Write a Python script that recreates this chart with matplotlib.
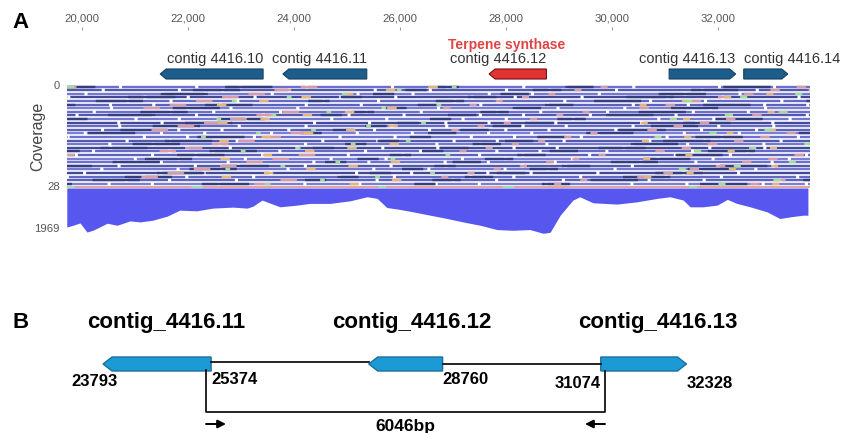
"""Contig 4416 region: read pileup / coverage (A) and PCR-spanning schematic (B)."""

import matplotlib

matplotlib.use("Agg")
import matplotlib.pyplot as plt
from matplotlib.patches import Polygon
from matplotlib.ticker import StrMethodFormatter

plt.rcParams["font.family"] = ["Liberation Sans", "DejaVu Sans"]

W, H = 844, 433

# --- panel A data -----------------------------------------------------------
ruler_ticks = [20000, 22000, 24000, 26000, 28000, 30000, 32000]

genes_a = ["contig 4416.10", "contig 4416.11", "contig 4416.12",
           "contig 4416.13", "contig 4416.14"]
genes_a_start = [21480, 23793, 27680, 31074, 32480]
genes_a_end = [23420, 25374, 28760, 32328, 33310]
genes_a_strand = [-1, -1, -1, 1, 1]
terpene_gene = "contig 4416.12"

read_rows = 28
max_cov = 1969

cov_pos = [19720, 19840, 19970, 20100, 20210, 20340, 20480, 20670, 20910, 21100,
           21340, 21610, 21850, 22170, 22470, 22850, 23120, 23230, 23400, 23550,
           23740, 24060, 24300, 24680, 25060, 25380, 25570, 25750, 26000, 26250,
           26570, 26890, 27190, 27510, 27830, 28130, 28450, 28700, 28830, 29020,
           29260, 29390, 29640, 30090, 30470, 30850, 31090, 31340, 31470, 31710,
           31980, 32170, 32350, 32600, 32920, 33160, 33350, 33600, 33690]
cov_depth = [1694, 1619, 1519, 1912, 1838, 1694, 1532, 1619, 1431, 1475,
             1400, 1225, 963, 993, 875, 831, 875, 788, 525, 656,
             818, 744, 670, 670, 556, 381, 451, 845, 932, 1037,
             1182, 1326, 1475, 1619, 1807, 1838, 1807, 1969, 1925, 1182,
             525, 381, 643, 700, 600, 451, 381, 525, 818, 818,
             744, 494, 670, 818, 1037, 1326, 1256, 1182, 1182]

# --- panel B data -----------------------------------------------------------
genes_b = ["contig_4416.11", "contig_4416.12", "contig_4416.13"]
genes_b_start = [23793, 27680, 31074]
genes_b_end = [25374, 28760, 32328]
genes_b_strand = [-1, -1, 1]
primer_fwd, primer_rev = 25299, 31136
amplicon_label = "6046bp"

A_XLIM = (19724, 33729)   # genome span of the browser track
B_XLIM = (22286, 34632)   # genome span of the schematic


def px_axes(fig, x0, y0, x1, y1):
    """Axes placed by pixel box (origin top-left)."""
    return fig.add_axes([x0 / W, 1 - y1 / H, (x1 - x0) / W, (y1 - y0) / H])


def ftext(fig, x, y, s, **kw):
    fig.text(x / W, 1 - y / H, s, **kw)


def gene_arrow(ax, start, end, strand, yc, h, head, fc, ec, lw=0.8):
    if strand < 0:
        pts = [(start, yc), (start + head, yc - h / 2), (end, yc - h / 2),
               (end, yc + h / 2), (start + head, yc + h / 2)]
    else:
        pts = [(end, yc), (end - head, yc - h / 2), (start, yc - h / 2),
               (start, yc + h / 2), (end - head, yc + h / 2)]
    ax.add_patch(Polygon(pts, closed=True, facecolor=fc, edgecolor=ec, lw=lw))


fig = plt.figure(figsize=(W / 100, H / 100), dpi=100)

# ============================ panel A =======================================
bp_per_px_a = (A_XLIM[1] - A_XLIM[0]) / (810 - 67)

ax_rul = px_axes(fig, 67, 30, 810, 40)
ax_rul.set_xlim(*A_XLIM)
ax_rul.set_ylim(0, 1)
ax_rul.xaxis.tick_top()
ax_rul.set_xticks(ruler_ticks)
ax_rul.xaxis.set_major_formatter(StrMethodFormatter("{x:,.0f}"))
ax_rul.tick_params(axis="x", direction="out", length=2.5, width=0.8,
                   color="#999999", labelsize=8.2, labelcolor="#555555", pad=2.5)
ax_rul.set_yticks([])
for s in ax_rul.spines.values():
    s.set_visible(False)
ax_rul.patch.set_visible(False)

ax = px_axes(fig, 67, 0, 810, 245)
ax.set_xlim(*A_XLIM)
ax.set_ylim(245, 0)
ax.axis("off")

# gene arrows + labels
for name, st, en, sd in zip(genes_a, genes_a_start, genes_a_end, genes_a_strand):
    red = name == terpene_gene
    gene_arrow(ax, st, en, sd, 74, 10, 6 * bp_per_px_a,
               "#e33232" if red else "#1d5d8c",
               "#6e1010" if red else "#15405f")
    if sd > 0 and st > 32000:
        ax.text(st, 63, name, ha="left", va="baseline", fontsize=10.5, color="#333333")
    else:
        ax.text(en, 63, name, ha="right", va="baseline", fontsize=10.5, color="#333333")
    if red:
        ax.text(en + 19 * bp_per_px_a, 49, "Terpene synthase", ha="right",
                va="baseline", fontsize=10, fontweight="bold", color="#e04545")

# read pileup texture: one dashed lane per row
x0, x1 = A_XLIM[0], A_XLIM[1]
base_cols = ["#6b6fd0", "#5258aa", "#7478d4", "#424a98", "#6468c6", "#5c62bc", "#7a7ed6"]
for i in range(read_rows):
    y = 86.5 + i * 3.6
    ax.plot([x0, x1], [y, y], color=base_cols[i % len(base_cols)], lw=1.7,
            solid_capstyle="butt",
            linestyle=(i * 7.3 % 40, (22, 1.3, 31, 1.3, 17, 1.3, 27, 1.3, 35, 1.3)))
    ax.plot([x0, x1], [y, y], color="#343d80", lw=1.7, solid_capstyle="butt",
            linestyle=(i * 13.7 % 60, (12, 55, 20, 70, 9, 45)))
    ax.plot([x0, x1], [y, y], color="#d79aa6", lw=1.7, solid_capstyle="butt",
            linestyle=(i * 11.1 % 70, (4, 95, 7, 120, 3, 80)))
    ax.plot([x0, x1], [y, y], color="#e6b47a", lw=1.7, solid_capstyle="butt",
            linestyle=(i * 17.9 % 90, (3, 150, 4, 175)))
    ax.plot([x0, x1], [y, y], color="#9ee09a", lw=1.7, solid_capstyle="butt",
            linestyle=(i * 23.3 % 110, (3, 160, 2, 190)))
ax.plot([x0, x1], [186.8, 186.8], color="#e4a49a", lw=1.4, solid_capstyle="butt")
ax.plot([x0, x1], [186.8, 186.8], color="#a8dca0", lw=1.4, solid_capstyle="butt",
        linestyle=(0, (4, 60, 6, 90)))

# coverage profile
ax_cov = px_axes(fig, 67, 188, 810, 233.3)
ax_cov.set_xlim(*A_XLIM)
ax_cov.set_ylim(max_cov, 0)
ax_cov.fill_between(cov_pos, 0, cov_depth, color="#5757ef", lw=0)
ax_cov.axis("off")

ftext(fig, 12, 22, "A", fontsize=16, fontweight="bold", va="center", ha="left")
ftext(fig, 60, 86, "0", fontsize=8, color="#555555", ha="right", va="center")
ftext(fig, 60, 187, str(read_rows), fontsize=8.2, color="#555555", ha="right", va="center")
ftext(fig, 60, 229, str(max_cov), fontsize=8.2, color="#555555", ha="right", va="center")
ftext(fig, 38, 136, "Coverage", fontsize=11.5, color="#444444", rotation=90,
      ha="center", va="center")

# ============================ panel B =======================================
axb = px_axes(fig, 0, 290, W, H)
axb.set_xlim(*B_XLIM)
axb.set_ylim(H, 290)
axb.axis("off")
bp_per_px_b = (B_XLIM[1] - B_XLIM[0]) / W
label_dx = [9, 6, 14]   # title nudges (px) relative to gene centre

# backbone between genes
axb.plot([genes_b_end[0], genes_b_start[1]], [362.3, 362.3], color="black", lw=1.2)
axb.plot([genes_b_end[1], genes_b_start[2]], [364, 364], color="black", lw=1.2)

for name, st, en, sd, dx in zip(genes_b, genes_b_start, genes_b_end,
                                genes_b_strand, label_dx):
    gene_arrow(axb, st, en, sd, 364, 14, 9 * bp_per_px_b, "#1c9ad6", "#1a6f9e", lw=1)
    axb.text((st + en) / 2 + dx * bp_per_px_b, 328, name,
             ha="center", va="baseline", fontsize=16, fontweight="bold")

# coordinate labels at gene ends
num_kw = dict(fontsize=12, fontweight="bold", va="center")
axb.text(genes_b_start[0] - 9 * bp_per_px_b, 381, str(genes_b_start[0]), ha="center", **num_kw)
axb.text(genes_b_end[0], 379, str(genes_b_end[0]), ha="left", **num_kw)
axb.text(genes_b_end[1], 380, str(genes_b_end[1]), ha="left", **num_kw)
axb.text(genes_b_start[2], 383, str(genes_b_start[2]), ha="right", **num_kw)
axb.text(genes_b_end[2], 383, str(genes_b_end[2]), ha="left", **num_kw)

# amplicon bracket and primers
axb.plot([primer_fwd, primer_fwd, primer_rev, primer_rev], [370, 412, 412, 371],
         color="black", lw=1.2)
arrow_len = 20 * bp_per_px_b
axb.annotate("", xy=(primer_fwd + arrow_len, 424), xytext=(primer_fwd, 424),
             arrowprops=dict(arrowstyle="-|>", color="black", lw=1.4,
                             mutation_scale=12, shrinkA=0, shrinkB=0))
axb.annotate("", xy=(primer_rev - arrow_len, 424), xytext=(primer_rev, 424),
             arrowprops=dict(arrowstyle="-|>", color="black", lw=1.4,
                             mutation_scale=12, shrinkA=0, shrinkB=0))
axb.text((primer_fwd + primer_rev) / 2, 426, amplicon_label, ha="center", va="center",
         fontsize=12.5, fontweight="bold")

ftext(fig, 12, 322, "B", fontsize=16, fontweight="bold", va="center", ha="left")

fig.savefig("out.png", dpi=100)
plt.close(fig)
